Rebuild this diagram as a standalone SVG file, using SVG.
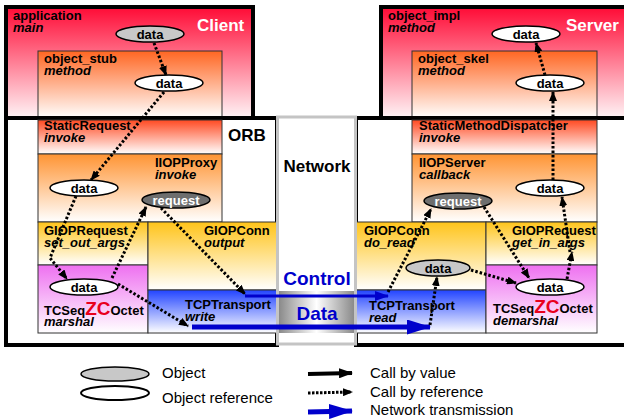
<svg xmlns="http://www.w3.org/2000/svg" width="624" height="419" viewBox="0 0 624 419">
<defs>
<linearGradient id="gRed" x1="0" y1="0" x2="0" y2="1"><stop offset="0" stop-color="#ff0a35"/><stop offset="1" stop-color="#fff4f6"/></linearGradient>
<linearGradient id="gOr" x1="0" y1="0" x2="0" y2="1"><stop offset="0" stop-color="#ff6622"/><stop offset="1" stop-color="#ffffff"/></linearGradient>
<linearGradient id="gSR" x1="0" y1="0" x2="0" y2="1"><stop offset="0" stop-color="#ff4a22"/><stop offset="1" stop-color="#ffffff"/></linearGradient>
<linearGradient id="gPx" x1="0" y1="0" x2="0" y2="1"><stop offset="0" stop-color="#ff9433"/><stop offset="1" stop-color="#ffffff"/></linearGradient>
<linearGradient id="gYe" x1="0" y1="0" x2="0" y2="1"><stop offset="0" stop-color="#ffc41a"/><stop offset="1" stop-color="#ffffff"/></linearGradient>
<linearGradient id="gMg" x1="0" y1="0" x2="0" y2="1"><stop offset="0" stop-color="#ee70f0"/><stop offset="1" stop-color="#ffffff"/></linearGradient>
<linearGradient id="gBl" x1="0" y1="0" x2="0" y2="1"><stop offset="0" stop-color="#2244ff"/><stop offset="1" stop-color="#ffffff"/></linearGradient>
<linearGradient id="gCyl" x1="0" y1="0" x2="1" y2="0"><stop offset="0" stop-color="#8a8a8a"/><stop offset="0.5" stop-color="#ffffff"/><stop offset="1" stop-color="#8a8a8a"/></linearGradient>
<marker id="ah" markerUnits="userSpaceOnUse" markerWidth="10" markerHeight="8" refX="9" refY="4" orient="auto"><path d="M0,0 L10,4 L0,8 z" fill="#000"/></marker>
<marker id="ahB" markerUnits="userSpaceOnUse" markerWidth="14" markerHeight="10" refX="13" refY="5" orient="auto"><path d="M0,0 L14,5 L0,10 z" fill="#0000cc"/></marker>
<marker id="ahBB" markerUnits="userSpaceOnUse" markerWidth="24" markerHeight="15" refX="23" refY="7.5" orient="auto"><path d="M0,0 L24,7.5 L0,15 z" fill="#0000cc"/></marker>
<marker id="ahL" markerUnits="userSpaceOnUse" markerWidth="14" markerHeight="10" refX="13" refY="5" orient="auto"><path d="M0,0 L14,5 L0,10 z" fill="#000"/></marker>
</defs>
<style>
text{font-family:"Liberation Sans",Arial,sans-serif}
.t{font-size:13px;font-weight:bold;fill:#000}
.i{font-style:italic}
.big{font-size:17px;font-weight:bold}
.frame{stroke:#000;stroke-width:4}
.box{stroke:#333;stroke-width:1}
.dot{fill:none;stroke:#000;stroke-width:3;stroke-dasharray:2.5 2;marker-end:url(#ah)}
.obj{fill:#c8c8c8;stroke:#000;stroke-width:1.5}
.ref{fill:#fff;stroke:#000;stroke-width:1.5}
.req{fill:#6e6e6e;stroke:#000;stroke-width:1.5}
.et{font-size:13px;font-weight:bold;text-anchor:middle}
.zc{font-size:19px;font-weight:bold;fill:#e8001c}
.lg{font-size:15px;fill:#000}
</style>

<g id="client">
<rect class="frame" x="6" y="7" width="247" height="111" fill="url(#gRed)"/>
<text class="t" x="13" y="20">application</text>
<text class="t i" x="13" y="32">main</text>
<text class="big" x="197" y="31" fill="#fff">Client</text>
</g>
<g id="object_stub">
<rect class="box" x="38" y="51" width="184" height="67" fill="url(#gOr)"/>
<text class="t" x="44" y="63">object_stub</text>
<text class="t i" x="44" y="75">method</text>
</g>
<g id="server">
<rect class="frame" x="381" y="7" width="250" height="111" fill="url(#gRed)"/>
<text class="t" x="388" y="20">object_impl</text>
<text class="t i" x="388" y="32">method</text>
<text class="big" x="566" y="31" fill="#fff">Server</text>
</g>
<g id="object_skel">
<rect class="box" x="412" y="51" width="185" height="67" fill="url(#gOr)"/>
<text class="t" x="418" y="63">object_skel</text>
<text class="t i" x="418" y="75">method</text>
</g>

<g id="orb-client">
<rect class="frame" x="6" y="118" width="271" height="227" fill="#fff"/>
<text class="big" x="228" y="141">ORB</text>
</g>
<g id="orb-server">
<rect class="frame" x="356" y="118" width="275" height="227" fill="#fff"/>
</g>

<g id="StaticRequest">
<rect class="box" x="38" y="120" width="184" height="34" fill="url(#gSR)"/>
<text class="t" x="44" y="130">StaticRequest</text>
<text class="t i" x="44" y="142">invoke</text>
</g>
<g id="IIOPProxy">
<rect class="box" x="38" y="154" width="184" height="68" fill="url(#gPx)"/>
<text class="t" x="155" y="167">IIOPProxy</text>
<text class="t i" x="155" y="179">invoke</text>
</g>
<g id="GIOPRequest-c">
<rect class="box" x="38" y="222" width="110" height="43" fill="url(#gYe)"/>
<text class="t" x="44" y="235">GIOPRequest</text>
<text class="t i" x="44" y="247">set_out_args</text>
</g>
<g id="TCSeqZCOctet-c">
<rect class="box" x="38" y="265" width="110" height="68" fill="url(#gMg)"/>
<text class="t" x="44" y="315">TCSeq<tspan class="zc">ZC</tspan>Octet</text>
<text class="t i" x="44" y="326">marshal</text>
</g>
<g id="GIOPConn-c">
<rect class="box" x="148" y="222" width="129" height="68" fill="url(#gYe)"/>
<text class="t" x="204" y="235">GIOPConn</text>
<text class="t i" x="204" y="247">output</text>
</g>
<g id="TCPTransport-c">
<rect class="box" x="148" y="290" width="129" height="43" fill="url(#gBl)"/>
<text class="t" x="185" y="309">TCPTransport</text>
<text class="t i" x="185" y="321">write</text>
</g>

<g id="StaticMethodDispatcher">
<rect class="box" x="412" y="120" width="185" height="34" fill="url(#gSR)"/>
<text class="t" x="419" y="130">StaticMethodDispatcher</text>
<text class="t i" x="419" y="142">invoke</text>
</g>
<g id="IIOPServer">
<rect class="box" x="412" y="154" width="185" height="68" fill="url(#gPx)"/>
<text class="t" x="419" y="167">IIOPServer</text>
<text class="t i" x="419" y="179">callback</text>
</g>
<g id="GIOPConn-s">
<rect class="box" x="356" y="222" width="130" height="68" fill="url(#gYe)"/>
<text class="t" x="364" y="235">GIOPConn</text>
<text class="t i" x="364" y="247">do_read</text>
</g>
<g id="TCPTransport-s">
<rect class="box" x="356" y="290" width="130" height="43" fill="url(#gBl)"/>
<text class="t" x="369" y="310">TCPTransport</text>
<text class="t i" x="369" y="322">read</text>
</g>
<g id="GIOPRequest-s">
<rect class="box" x="486" y="222" width="111" height="43" fill="url(#gYe)"/>
<text class="t" x="512" y="235">GIOPRequest</text>
<text class="t i" x="512" y="247">get_in_args</text>
</g>
<g id="TCSeqZCOctet-s">
<rect class="box" x="486" y="265" width="111" height="68" fill="url(#gMg)"/>
<text class="t" x="493" y="313">TCSeq<tspan class="zc">ZC</tspan>Octet</text>
<text class="t i" x="493" y="325">demarshal</text>
</g>

<g id="network">
<rect x="277.5" y="117" width="78" height="227" fill="#fff" stroke="#c4c4c4" stroke-width="3"/>
<rect x="279" y="291" width="75" height="42" fill="url(#gCyl)"/>
<text class="big" x="317" y="172" text-anchor="middle">Network</text>
<text x="317" y="285" text-anchor="middle" font-size="19" font-weight="bold" fill="#0000cc">Control</text>
<text x="317" y="320" text-anchor="middle" font-size="19" font-weight="bold" fill="#0000cc">Data</text>
</g>

<g id="connectors">
<line class="dot" x1="154" y1="43" x2="166" y2="75"/>
<line class="dot" x1="164" y1="92" x2="91" y2="180"/>
<polyline class="dot" points="76,196 50,258 67,279"/>
<line class="dot" x1="112" y1="278" x2="146" y2="207"/>
<line class="dot" x1="161" y1="208" x2="245" y2="294"/>
<line class="dot" x1="118" y1="284" x2="188" y2="326"/>
<line x1="245" y1="296" x2="388" y2="296" stroke="#0000cc" stroke-width="3" marker-end="url(#ahB)"/>
<line x1="192" y1="327" x2="430" y2="327" stroke="#0000cc" stroke-width="5" marker-end="url(#ahBB)"/>
<line class="dot" x1="388" y1="292" x2="431" y2="209"/>
<line class="dot" x1="430" y1="325" x2="437" y2="277"/>
<line class="dot" x1="484" y1="207" x2="529" y2="278"/>
<line class="dot" x1="471" y1="270" x2="516" y2="283"/>
<line class="dot" x1="567" y1="279" x2="572" y2="252"/>
<line class="dot" x1="570" y1="252" x2="562" y2="197"/>
<line class="dot" x1="553" y1="180" x2="553" y2="92"/>
<line class="dot" x1="545" y1="75" x2="536" y2="43"/>
</g>

<g id="obj-app-data"><ellipse class="obj" cx="150" cy="34" rx="34" ry="8"/><text class="et" x="150" y="39">data</text></g>
<g id="ref-stub-data"><ellipse class="ref" cx="169" cy="83" rx="34" ry="8"/><text class="et" x="169" y="88">data</text></g>
<g id="ref-proxy-data"><ellipse class="ref" cx="84" cy="188" rx="34" ry="8"/><text class="et" x="84" y="193">data</text></g>
<g id="req-client"><ellipse class="req" cx="176" cy="200" rx="34" ry="8"/><text class="et" x="176" y="205" fill="#fff">request</text></g>
<g id="ref-marshal-data"><ellipse class="ref" cx="84" cy="287" rx="34" ry="8"/><text class="et" x="84" y="292">data</text></g>
<g id="ref-impl-data"><ellipse class="ref" cx="526" cy="34" rx="34" ry="8"/><text class="et" x="526" y="39">data</text></g>
<g id="ref-skel-data"><ellipse class="ref" cx="550" cy="83" rx="34" ry="8"/><text class="et" x="550" y="88">data</text></g>
<g id="ref-server-data"><ellipse class="ref" cx="550" cy="188" rx="34" ry="8"/><text class="et" x="550" y="193">data</text></g>
<g id="req-server"><ellipse class="req" cx="458" cy="201" rx="34" ry="8"/><text class="et" x="458" y="206" fill="#fff">request</text></g>
<g id="obj-read-data"><ellipse class="obj" cx="438" cy="268" rx="32" ry="8"/><text class="et" x="438" y="273">data</text></g>
<g id="ref-demarshal-data"><ellipse class="ref" cx="550" cy="287" rx="34" ry="8"/><text class="et" x="550" y="292">data</text></g>

<g id="legend">
<ellipse class="obj" cx="115" cy="374" rx="34" ry="7"/>
<text class="lg" x="162" y="378">Object</text>
<ellipse cx="115" cy="393" rx="34" ry="7" fill="#fff" stroke="#000" stroke-width="2"/>
<text class="lg" x="162" y="403">Object reference</text>
<line x1="308" y1="374" x2="352" y2="373" stroke="#000" stroke-width="4" marker-end="url(#ahL)"/>
<text class="lg" x="370" y="378">Call by value</text>
<line x1="308" y1="393" x2="352" y2="392" stroke="#000" stroke-width="3" stroke-dasharray="2.5 1.5" marker-end="url(#ah)"/>
<text class="lg" x="370" y="397">Call by reference</text>
<line x1="308" y1="412" x2="352" y2="411" stroke="#0000cc" stroke-width="5" marker-end="url(#ahBB)"/>
<text class="lg" x="370" y="415">Network transmission</text>
</g>
</svg>
